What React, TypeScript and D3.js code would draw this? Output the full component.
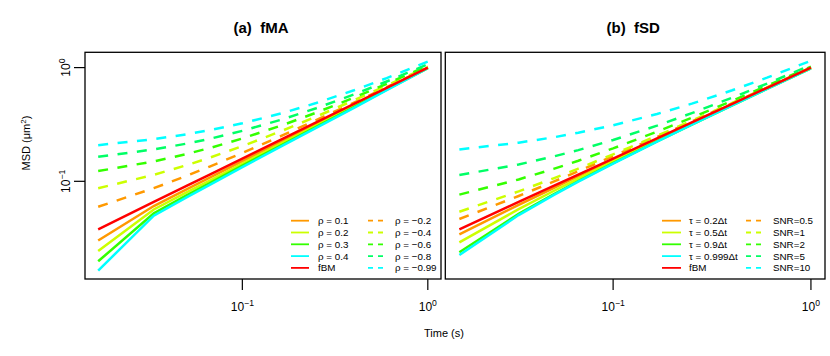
import * as d3 from "d3";

// time lags (s)
const times = [0.0167, 0.0333, 0.05, 0.0667, 0.1, 0.1667, 0.25, 0.4, 0.6, 1.0];

// plain fBM, shared by both panels
const fbm = [0.0378, 0.0658, 0.091, 0.1146, 0.1585, 0.2385, 0.3299, 0.4804, 0.6645, 1.0];

// (a) fMA, positive rho (solid)
const rho01 = [0.0302, 0.0606, 0.085, 0.1077, 0.1505, 0.2288, 0.3192, 0.469, 0.6553, 0.9966];
const rho02 = [0.0244, 0.0565, 0.0798, 0.1015, 0.143, 0.2196, 0.3085, 0.4577, 0.6463, 0.9931];
const rho03 = [0.0198, 0.0523, 0.0752, 0.0964, 0.1374, 0.2126, 0.3008, 0.4494, 0.6389, 0.9908];
const rho04 = [0.0164, 0.0499, 0.0723, 0.0932, 0.1334, 0.2078, 0.2953, 0.4433, 0.6345, 0.9886];
// (a) fMA, negative rho (dashed)
const rhoM02 = [0.0597, 0.087, 0.1117, 0.1347, 0.1776, 0.2558, 0.3452, 0.4923, 0.6723, 1.0];
const rhoM04 = [0.0869, 0.114, 0.1385, 0.1614, 0.2039, 0.2815, 0.3702, 0.5162, 0.6948, 1.0202];
const rhoM06 = [0.123, 0.1497, 0.1737, 0.1962, 0.2381, 0.3143, 0.4014, 0.5448, 0.7203, 1.04];
const rhoM08 = [0.1644, 0.1907, 0.2144, 0.2366, 0.2779, 0.3532, 0.4392, 0.5809, 0.7541, 1.0698];
const rhoM099 = [0.208, 0.2348, 0.259, 0.2816, 0.3236, 0.4003, 0.4878, 0.632, 0.8084, 1.1298];

// (b) fSD, blur tau (solid)
const tau02 = [0.0341, 0.0621, 0.0873, 0.1109, 0.1548, 0.2348, 0.3262, 0.4767, 0.6608, 0.9963];
const tau05 = [0.029, 0.057, 0.0822, 0.1058, 0.1497, 0.2297, 0.3211, 0.4716, 0.6557, 0.9912];
const tau09 = [0.0238, 0.0518, 0.077, 0.1006, 0.1445, 0.2245, 0.3159, 0.4664, 0.6505, 0.986];
const tau0999 = [0.0225, 0.0505, 0.0757, 0.0993, 0.1432, 0.2232, 0.3146, 0.4651, 0.6492, 0.9847];
// (b) fSD, noise SNR (dashed)
const snr05 = [0.0466, 0.0743, 0.0993, 0.1227, 0.1662, 0.2455, 0.336, 0.4852, 0.6676, 1.0];
const snr1 = [0.054, 0.0815, 0.1063, 0.1295, 0.1726, 0.2512, 0.3411, 0.489, 0.67, 1.0];
const snr2 = [0.0764, 0.1039, 0.1286, 0.1517, 0.1948, 0.2733, 0.3629, 0.5106, 0.6912, 1.0203];
const snr5 = [0.1135, 0.1407, 0.1652, 0.1882, 0.2309, 0.3088, 0.3977, 0.5441, 0.7233, 1.0497];
const snr10 = [0.1907, 0.2186, 0.2437, 0.2673, 0.311, 0.3908, 0.4819, 0.632, 0.8155, 1.15];

const fmaSolidLabels = ["ρ = 0.1", "ρ = 0.2", "ρ = 0.3", "ρ = 0.4", "fBM"];
const fmaDashLabels = ["ρ = −0.2", "ρ = −0.4", "ρ = −0.6", "ρ = −0.8", "ρ = −0.99"];
const fsdSolidLabels = ["τ = 0.2Δt", "τ = 0.5Δt", "τ = 0.9Δt", "τ = 0.999Δt", "fBM"];
const fsdDashLabels = ["SNR=0.5", "SNR=1", "SNR=2", "SNR=5", "SNR=10"];

const solidColors = ["#FF9900", "#CCFF00", "#33FF00", "#00FFFF", "#FF0000"];
const dashColors = ["#FF9900", "#CCFF00", "#33FF00", "#00FF66", "#00FFFF"];

const FONT = "'Liberation Sans', Arial, Helvetica, sans-serif";
const top = 52.3;
const bottom = 279;

type Panel = {
  title: string;
  left: number;
  right: number;
  solids: number[][];
  dashes: number[][];
  solidLabels: string[];
  dashLabels: string[];
  legend: { x1: number; x2: number; tx1: number; d1: number; d2: number; tx2: number };
  yAxis: boolean;
};

const panels: Panel[] = [
  {
    title: "(a)\u00A0\u00A0fMA",
    left: 85,
    right: 441,
    solids: [rho01, rho02, rho03, rho04],
    dashes: [rhoM02, rhoM04, rhoM06, rhoM08, rhoM099],
    solidLabels: fmaSolidLabels,
    dashLabels: fmaDashLabels,
    legend: { x1: 291, x2: 309, tx1: 318, d1: 368, d2: 383, tx2: 395 },
    yAxis: true,
  },
  {
    title: "(b)\u00A0\u00A0fSD",
    left: 445.3,
    right: 825,
    solids: [tau02, tau05, tau09, tau0999],
    dashes: [snr05, snr1, snr2, snr5, snr10],
    solidLabels: fsdSolidLabels,
    dashLabels: fsdDashLabels,
    legend: { x1: 662, x2: 681, tx1: 689, d1: 746, d2: 761, tx2: 773 },
    yAxis: false,
  },
];

// R style 4% padding on log axes
function padLog(lo: number, hi: number): [number, number] {
  const a = Math.log10(lo);
  const b = Math.log10(hi);
  const p = (b - a) * 0.04;
  return [10 ** (a - p), 10 ** (b + p)];
}

const allY = [fbm, rho04, rhoM099, snr10, tau0999].flat();
const yDomain = padLog(d3.min(allY)!, d3.max(allY)!);
const xDomain = padLog(d3.min(times)!, d3.max(times)!);

function Pow({ x, y, exp, size, anchor = "middle", rotate = false }: any) {
  return (
    <text
      x={x}
      y={y}
      fontSize={size}
      textAnchor={anchor}
      transform={rotate ? `rotate(-90 ${x} ${y})` : undefined}
    >
      10
      <tspan fontSize={size * 0.72} dy={-size * 0.42}>
        {exp}
      </tspan>
    </text>
  );
}

function PanelView({ p }: { p: Panel }) {
  const x = d3.scaleLog().domain(xDomain).range([p.left, p.right]);
  const y = d3.scaleLog().domain(yDomain).range([bottom, top]);
  const line = d3
    .line<number>()
    .x((_, i) => x(times[i]))
    .y((d) => y(d));
  const rows = [220.7, 232.5, 244.3, 256.1, 267.9];
  const lg = p.legend;

  return (
    <g>
      <text
        x={(p.left + p.right) / 2 - 2}
        y={33}
        fontSize={15}
        fontWeight="bold"
        textAnchor="middle"
      >
        {p.title}
      </text>

      {p.solids.map((s, i) => (
        <path key={"s" + i} d={line(s)!} fill="none" stroke={solidColors[i]} strokeWidth={2.5} />
      ))}
      {p.dashes.map((s, i) => (
        <path
          key={"d" + i}
          d={line(s)!}
          fill="none"
          stroke={dashColors[i]}
          strokeWidth={2.5}
          strokeDasharray="10 9.5"
        />
      ))}
      <path d={line(fbm)!} fill="none" stroke="#FF0000" strokeWidth={2.5} />

      {p.solidLabels.map((lab, i) => (
        <g key={"ls" + i}>
          <line x1={lg.x1} x2={lg.x2} y1={rows[i]} y2={rows[i]} stroke={solidColors[i]} strokeWidth={1.8} />
          <text x={lg.tx1} y={rows[i] + 3.4} fontSize={9.8}>
            {lab}
          </text>
        </g>
      ))}
      {p.dashLabels.map((lab, i) => (
        <g key={"ld" + i}>
          <line
            x1={lg.d1}
            x2={lg.d2}
            y1={rows[i]}
            y2={rows[i]}
            stroke={dashColors[i]}
            strokeWidth={1.8}
            strokeDasharray="5 5"
          />
          <text x={lg.tx2} y={rows[i] + 3.4} fontSize={9.8}>
            {lab}
          </text>
        </g>
      ))}

      <rect
        x={p.left}
        y={top}
        width={p.right - p.left}
        height={bottom - top}
        fill="none"
        stroke="#000"
        strokeWidth={1.3}
      />

      {[0.1, 1].map((t) => (
        <g key={"xt" + t}>
          <line x1={x(t)} x2={x(t)} y1={bottom} y2={bottom + 11} stroke="#000" strokeWidth={1.2} />
          <Pow x={x(t)} y={311} exp={t === 1 ? "0" : "−1"} size={12} />
        </g>
      ))}

      {p.yAxis &&
        [0.1, 1].map((v) => (
          <g key={"yt" + v}>
            <line x1={p.left - 11} x2={p.left} y1={y(v)} y2={y(v)} stroke="#000" strokeWidth={1.2} />
            <Pow x={70} y={y(v)} exp={v === 1 ? "0" : "−1"} size={12} rotate />
          </g>
        ))}
    </g>
  );
}

export default function App() {
  return (
    <svg
      width={830}
      height={356}
      style={{ position: "absolute", left: 0, top: 0, background: "#fff" }}
      fontFamily={FONT}
    >
      {panels.map((p, i) => (
        <PanelView key={i} p={p} />
      ))}
      <text x={444} y={337} fontSize={11} textAnchor="middle">
        Time (s)
      </text>
      <text x={30} y={143} fontSize={11} textAnchor="middle" transform="rotate(-90 30 143)">
        MSD (μm
        <tspan fontSize={8} dy={-4.5}>
          2
        </tspan>
        <tspan dy={4.5}>)</tspan>
      </text>
    </svg>
  );
}
